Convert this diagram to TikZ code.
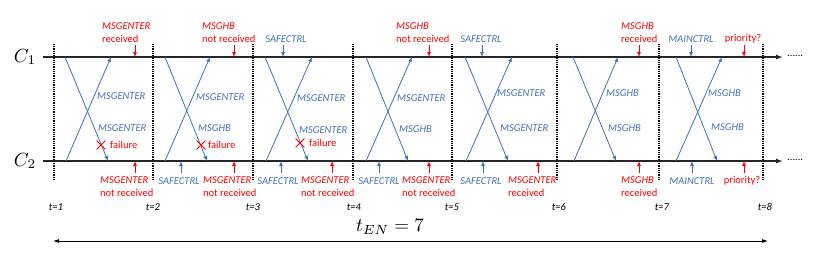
\documentclass[tikz,border=0pt]{standalone}
\usepackage{amsmath}
\usepackage{fontspec}
\newfontfamily\calib{Carlito}
\usetikzlibrary{arrows.meta,positioning,shapes.misc}
\definecolor{msgblue}{RGB}{65,113,190}
\definecolor{msgred}{RGB}{255,0,0}

\begin{document}
\begin{tikzpicture}[x=1pt, y=-1pt,
		bl/.style={font=\calib\itshape\fontsize{10.5}{13}\selectfont, text=msgblue, inner sep=0pt},
		rd/.style={font=\calib\fontsize{10.5}{13}\selectfont, text=msgred, inner sep=0pt, align=left},
		tl/.style={font=\calib\itshape\fontsize{10.5}{13}\selectfont, inner sep=0pt},
		big/.style={scale=1.9, inner sep=0pt},
		ln/.style={line width=1.6pt, black!85, -{Latex[length=7pt,width=5pt]}},
		tk/.style={line width=1.2pt, dash pattern=on 0.9pt off 0.9pt},
		msg/.style={msgblue, line width=0.8pt, -{Latex[length=5pt,width=4pt]}},
		pb/.style={msgblue, line width=0.8pt, -{Latex[length=5pt,width=4pt]}},
		pr/.style={msgred, line width=0.8pt, -{Latex[length=5pt,width=4pt]}},
		xm/.style={cross out, draw=msgred, line width=0.8pt, minimum size=8pt, inner sep=0pt},
		dts/.style={font=\calib\fontsize{10.5}{13}\selectfont, inner sep=0pt, anchor=west}
		]
		\useasboundingbox (0,0) rectangle (822,263);
		% time lines of the two controllers
		\coordinate (c1s) at (43,57);
		\coordinate (c1e) at (783,57);
		\coordinate (c2s) at (43,161);
		\coordinate (c2e) at (783,161);
		\draw[ln] (c1s)--(c1e);
		\draw[ln] (c2s)--(c2e);
		\node[big] (l1) at (25,57) {$C_1$};
		\node[big] (l2) at (25,161) {$C_2$};
		\node[dts] (d1) at (787,56) {......};
		\node[dts] (d2) at (787,160) {......};
		% slot borders
		\coordinate (p1t) at (54,44);  \coordinate (p1b) at (54,180);
		\coordinate (p2t) at (153,44); \coordinate (p2b) at (153,180);
		\coordinate (p3t) at (253,44); \coordinate (p3b) at (253,180);
		\coordinate (p4t) at (353,44); \coordinate (p4b) at (353,180);
		\coordinate (p5t) at (452,44); \coordinate (p5b) at (452,180);
		\coordinate (p6t) at (557,44); \coordinate (p6b) at (557,180);
		\coordinate (p7t) at (659,44); \coordinate (p7b) at (659,180);
		\coordinate (p8t) at (763,44); \coordinate (p8b) at (763,180);
		\draw[tk] (p1t)--(p1b);
		\draw[tk] (p2t)--(p2b);
		\draw[tk] (p3t)--(p3b);
		\draw[tk] (p4t)--(p4b);
		\draw[tk] (p5t)--(p5b);
		\draw[tk] (p6t)--(p6b);
		\draw[tk] (p7t)--(p7b);
		\draw[tk] (p8t)--(p8b);
		\node[tl] (t1) at (56,207) {t=1};
		\node[tl] (t2) at (153,207) {t=2};
		\node[tl] (t3) at (253,207) {t=3};
		\node[tl] (t4) at (354,207) {t=4};
		\node[tl] (t5) at (452,207) {t=5};
		\node[tl] (t6) at (559,207) {t=6};
		\node[tl] (t7) at (662,207) {t=7};
		\node[tl] (t8) at (765,207) {t=8};
		% crossing messages
		\coordinate (d1a) at (65,57);  \coordinate (d1b) at (108,161);
		\coordinate (u1a) at (66,161); \coordinate (u1b) at (111,57);
		\coordinate (d2a) at (165,57);  \coordinate (d2b) at (207,161);
		\coordinate (u2a) at (165,161); \coordinate (u2b) at (210,57);
		\coordinate (d3a) at (265,57);  \coordinate (d3b) at (308,161);
		\coordinate (u3a) at (266,161); \coordinate (u3b) at (312,57);
		\coordinate (d4a) at (366,57);  \coordinate (d4b) at (408,161);
		\coordinate (u4a) at (366,161); \coordinate (u4b) at (412,57);
		\coordinate (d5a) at (465,57);  \coordinate (d5b) at (508,161);
		\coordinate (u5a) at (466,161); \coordinate (u5b) at (512,57);
		\coordinate (d6a) at (573,57);  \coordinate (d6b) at (616,161);
		\coordinate (u6a) at (574,161); \coordinate (u6b) at (618,57);
		\coordinate (d7a) at (676,57);  \coordinate (d7b) at (717,161);
		\coordinate (u7a) at (676,161); \coordinate (u7b) at (722,57);
		\draw[msg] (d1a)--(d1b); \draw[msg] (u1a)--(u1b);
		\draw[msg] (d2a)--(d2b); \draw[msg] (u2a)--(u2b);
		\draw[msg] (d3a)--(d3b); \draw[msg] (u3a)--(u3b);
		\draw[msg] (d4a)--(d4b); \draw[msg] (u4a)--(u4b);
		\draw[msg] (d5a)--(d5b); \draw[msg] (u5a)--(u5b);
		\draw[msg] (d6a)--(d6b); \draw[msg] (u6a)--(u6b);
		\draw[msg] (d7a)--(d7b); \draw[msg] (u7a)--(u7b);
		\node[bl, anchor=west] (k1u) at (97,96) {MSGENTER};
		\node[bl, anchor=west] (k1l) at (98,128) {MSGENTER};
		\node[bl, anchor=west] (k2u) at (196,97) {MSGENTER};
		\node[bl, anchor=west] (k2l) at (198,128) {MSGHB};
		\node[bl, anchor=west] (k3u) at (297,98) {MSGENTER};
		\node[bl, anchor=west] (k3l) at (299,130) {MSGENTER};
		\node[bl, anchor=west] (k4u) at (397,98) {MSGENTER};
		\node[bl, anchor=west] (k4l) at (399,129) {MSGHB};
		\node[bl, anchor=west] (k5u) at (497,93) {MSGENTER};
		\node[bl, anchor=west] (k5l) at (500,128) {MSGENTER};
		\node[bl, anchor=west] (k6u) at (606,93) {MSGHB};
		\node[bl, anchor=west] (k6l) at (608,128) {MSGHB};
		\node[bl, anchor=west] (k7u) at (708,93) {MSGHB};
		\node[bl, anchor=west] (k7l) at (711,127) {MSGHB};
		% lost messages
		\node[xm] (x1) at (101,145) {};
		\node[rd, anchor=west] (f1) at (110,145) {failure};
		\node[xm] (x2) at (201,145) {};
		\node[rd, anchor=west] (f2) at (208,145) {failure};
		\node[xm] (x3) at (300,143) {};
		\node[rd, anchor=west] (f3) at (309,143) {failure};
		% events on C1
		\node[rd, anchor=west] (r1) at (102,32.5) {\textit{MSGENTER}\\received};
		\node[rd, anchor=west] (r2) at (202,32.5) {\textit{MSGHB}\\not received};
		\node[bl] (b3) at (286,39) {SAFECTRL};
		\node[rd, anchor=west] (r4) at (396,32.5) {\textit{MSGHB}\\not received};
		\node[bl] (b5) at (481,39) {SAFECTRL};
		\node[rd, anchor=west] (r6) at (621,32.5) {\textit{MSGHB}\\received};
		\node[bl] (b7) at (691,39) {MAINCTRL};
		\node[rd] (r7) at (743,39) {priority?};
		\coordinate (m1) at (135,45);
		\coordinate (m2) at (234,45);
		\coordinate (m3) at (283,45);
		\coordinate (m4) at (429,45);
		\coordinate (m5) at (482,45);
		\coordinate (m6) at (639,45);
		\coordinate (m7) at (691,45);
		\coordinate (m8) at (744,45);
		\draw[pr] (m1)--(m1 |- c1s);
		\draw[pr] (m2)--(m2 |- c1s);
		\draw[pb] (m3)--(m3 |- c1s);
		\draw[pr] (m4)--(m4 |- c1s);
		\draw[pb] (m5)--(m5 |- c1s);
		\draw[pr] (m6)--(m6 |- c1s);
		\draw[pb] (m7)--(m7 |- c1s);
		\draw[pr] (m8)--(m8 |- c1s);
		% events on C2
		\node[rd, anchor=west] (s1) at (100,187) {\textit{MSGENTER}\\not received};
		\node[bl] (a2) at (179,181) {SAFECTRL};
		\node[rd, anchor=west] (s2) at (203,187) {\textit{MSGENTER}\\not received};
		\node[bl] (a3) at (278,181) {SAFECTRL};
		\node[rd, anchor=west] (s3) at (301,187) {\textit{MSGENTER}\\not received};
		\node[bl] (a4) at (379,181) {SAFECTRL};
		\node[rd, anchor=west] (s4) at (402,187) {\textit{MSGENTER}\\not received};
		\node[bl] (a5) at (481,181) {SAFECTRL};
		\node[rd, anchor=west] (s5) at (508,187) {\textit{MSGENTER}\\received};
		\node[rd, anchor=west] (s6) at (621,187) {\textit{MSGHB}\\received};
		\node[bl] (a7) at (692,181) {MAINCTRL};
		\node[rd] (s7) at (742,181) {priority?};
		\coordinate (n1) at (135,173);
		\coordinate (n2) at (181,173);
		\coordinate (n3) at (234,173);
		\coordinate (n4) at (281,173);
		\coordinate (n5) at (332,173);
		\coordinate (n6) at (379,173);
		\coordinate (n7) at (429,173);
		\coordinate (n8) at (483,173);
		\coordinate (n9) at (538,173);
		\coordinate (n10) at (639,173);
		\coordinate (n11) at (692,173);
		\coordinate (n12) at (744,173);
		\draw[pr] (n1)--(n1 |- c2s);
		\draw[pb] (n2)--(n2 |- c2s);
		\draw[pr] (n3)--(n3 |- c2s);
		\draw[pb] (n4)--(n4 |- c2s);
		\draw[pr] (n5)--(n5 |- c2s);
		\draw[pb] (n6)--(n6 |- c2s);
		\draw[pr] (n7)--(n7 |- c2s);
		\draw[pb] (n8)--(n8 |- c2s);
		\draw[pr] (n9)--(n9 |- c2s);
		\draw[pr] (n10)--(n10 |- c2s);
		\draw[pb] (n11)--(n11 |- c2s);
		\draw[pr] (n12)--(n12 |- c2s);
		% duration
		\coordinate (e1) at (53,241);
		\coordinate (e2) at (768,241);
		\draw[{Latex[length=6pt,width=4pt]}-{Latex[length=6pt,width=4pt]}, line width=0.8pt] (e1)--(e2);
		\node[big] (te) at (390,227) {$t_{EN}=7$};
	\end{tikzpicture}
\end{document}
